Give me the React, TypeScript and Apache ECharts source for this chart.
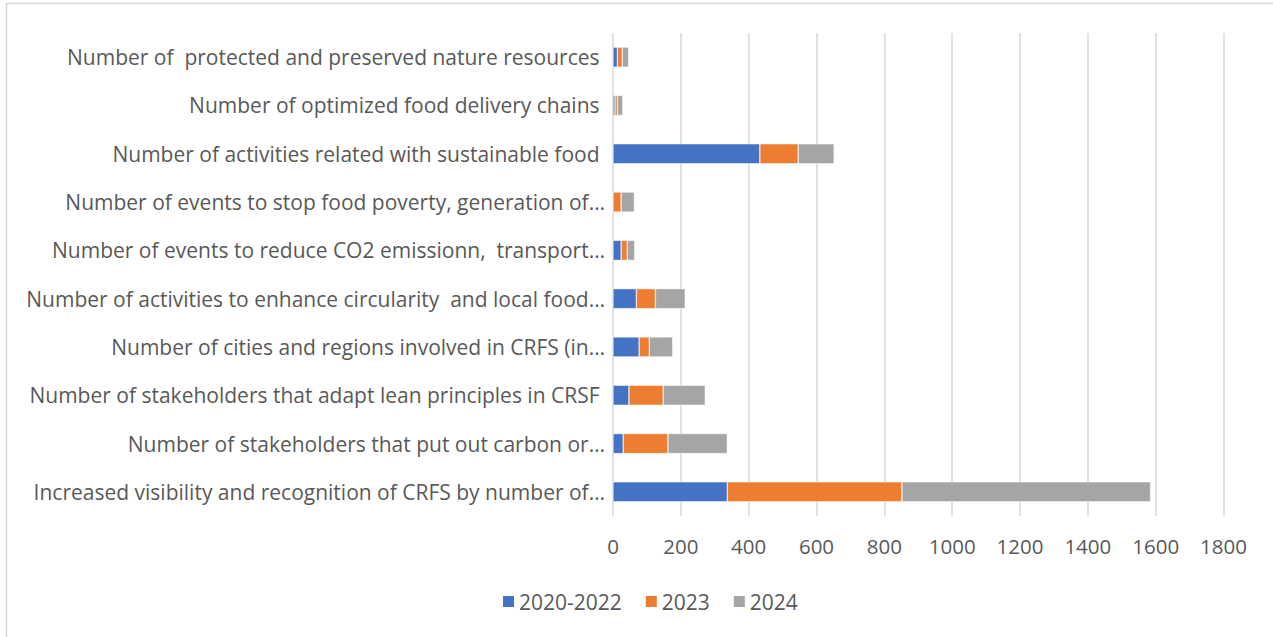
import React, { useEffect, useRef } from "react";
import * as echarts from "echarts";

const categories = [
  "Number of  protected and preserved nature resources ",
  "Number of optimized food delivery chains ",
  "Number of activities related with sustainable food ",
  "Number of events to stop food poverty, generation of…",
  "Number of events to reduce CO2 emissionn,  transport…",
  "Number of activities to enhance circularity  and local food…",
  "Number of cities and regions involved in CRFS (in…",
  "Number of stakeholders that adapt lean principles in CRSF ",
  "Number of stakeholders that put out carbon or…",
  "Increased visibility and recognition of CRFS by number of…",
];

const seriesNames = ["2020-2022", "2023", "2024"];
const values2020_2022 = [13, 6, 433, 0, 24, 69, 77, 47, 30, 337];
const values2023 = [14, 7, 113, 24, 18, 56, 30, 101, 132, 515];
const values2024 = [19, 16, 106, 39, 22, 88, 69, 124, 175, 733];
const colors = ["#4472C4", "#ED7D31", "#A5A5A5"];
const xMin = 0;
const xMax = 1800;
const xInterval = 200;

const FONT = "'Open Sans', Roboto, sans-serif";
const TEXT_COLOR = "#595959";

export default function App() {
  const ref = useRef<HTMLDivElement>(null);
  useEffect(() => {
    if (!ref.current) return;
    const chart = echarts.init(ref.current, null, { renderer: "svg" });
    const allValues = [values2020_2022, values2023, values2024];
    chart.setOption({
      animation: false,
      color: colors,
      textStyle: { fontFamily: FONT },
      graphic: [
        {
          type: "rect",
          shape: { x: 6.5, y: 3.5, width: 1400, height: 800 },
          style: { fill: "none", stroke: "#D9D9D9", lineWidth: 1.5 },
          silent: true,
        },
      ],
      grid: { left: 613, right: 49.5, top: 33, bottom: 121, containLabel: false },
      xAxis: {
        type: "value",
        min: xMin,
        max: xMax,
        interval: xInterval,
        axisLine: { show: false },
        axisTick: { show: false },
        splitLine: { show: true, lineStyle: { color: "#D9D9D9", width: 1.5 } },
        axisLabel: {
          color: TEXT_COLOR,
          fontSize: 20.5,
          fontFamily: FONT,
          margin: 19,
          formatter: (v: number) => String(v),
        },
      },
      yAxis: {
        type: "category",
        data: categories,
        inverse: true,
        axisLine: { show: false },
        axisTick: { show: false },
        axisLabel: { color: TEXT_COLOR, fontSize: 21, fontFamily: FONT, margin: 8, padding: [0, 0, 2, 0] },
      },
      legend: {
        left: 496,
        top: 586,
        itemWidth: 13,
        itemHeight: 13,
        itemGap: 22,
        icon: "rect",
        textStyle: { color: TEXT_COLOR, fontSize: 21, fontFamily: FONT, padding: [0, 0, 0, -1] },
        data: seriesNames,
      },
      series: seriesNames.map((name, i) => ({
        name,
        type: "bar",
        stack: "total",
        data: allValues[i],
        barWidth: 20,
        itemStyle: { color: colors[i], borderColor: "#ffffff", borderWidth: 0.5 },
      })),
    });
    return () => chart.dispose();
  }, []);
  return (
    <div
      ref={ref}
      style={{ position: "fixed", left: 0, top: 0, width: 1273, height: 637, background: "#fff" }}
    />
  );
}
